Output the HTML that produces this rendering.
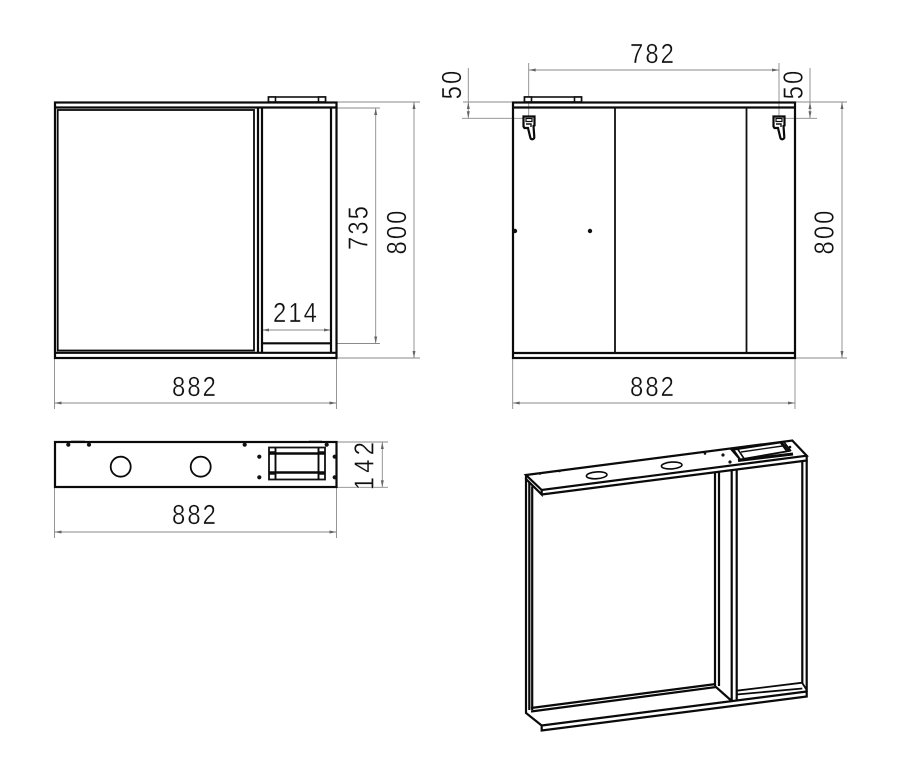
<!DOCTYPE html>
<html><head><meta charset="utf-8"><style>
html,body{margin:0;padding:0;background:#fff;width:900px;height:774px;overflow:hidden}
svg{display:block}
text{font-family:"Liberation Sans",sans-serif;font-size:28px;fill:#111;stroke:#fff;stroke-width:.35px;text-anchor:middle;letter-spacing:2.5px}
.k{fill:none;stroke:#0a0a0a;stroke-width:2.2}
.m{fill:none;stroke:#111;stroke-width:1.4}
.d{fill:none;stroke:#8a8a8a;stroke-width:.9}
.a{fill:#666;stroke:none}
.w{fill:#fff;stroke:#111;stroke-width:1.6}
</style></head><body>
<svg width="900" height="774" viewBox="0 0 900 774" xmlns="http://www.w3.org/2000/svg">
<!-- FRONT VIEW -->
<g class="d">
<path d="M337 108H380M337 343.5H380M337 102H420M337 358H420"/>
<path d="M375.7 108V343.5M414 102V358"/>
<path d="M54.5 358V409M336.5 358V409M54.5 403H336.5M262 330H331"/>
</g>
<g class="a">
<path d="M375.7 108l-1.5 7h3zM375.7 343.5l-1.5-7h3zM414 102l-1.5 7h3zM414 358l-1.5-7h3z"/>
<path d="M54.5 403l7-1.5v3zM336.5 403l-7-1.5v3zM262 330l7-1.5v3zM331 330l-7-1.5v3z"/>
</g>
<g>
<rect class="w" x="268.5" y="97" width="57" height="5"/>
<rect class="w" x="268.5" y="97" width="7" height="5"/>
<rect class="w" x="318.5" y="97" width="7" height="5"/>
<rect class="k" x="55" y="102.5" width="281.5" height="255.5"/>
<path class="k" d="M55 107.5H336.5M55 352.8H336.5"/>
<rect class="k" x="57.7" y="110" width="196.3" height="240.5" style="stroke-width:1.8"/>
<path class="k" d="M258 108V352.5M262 108V352.5M331 108V352.5M262 343.3H331"/>
</g>
<text transform="translate(195 396) scale(.85 1)">882</text>
<text transform="translate(296 322) scale(.85 1)">214</text>
<text transform="translate(367.5 227) rotate(-90) scale(.85 1)">735</text>
<text transform="translate(406 231.5) rotate(-90) scale(.85 1)">800</text>

<!-- BACK VIEW -->
<g class="d">
<path d="M528.7 63V119M779 63V119M528.7 70H779"/>
<path d="M468.3 68V118.3M463 102H512M462 118.3H528.7"/>
<path d="M810 68V118.3M795 102H847M779 118.3H817"/>
<path d="M842 102V358M795 358H847"/>
<path d="M512.7 358V409M795 358V409M512.7 403H795"/>
</g>
<g class="a">
<path d="M528.7 70l7-1.5v3zM779 70l-7-1.5v3zM468.3 102l-1.5 7h3zM468.3 118.3l-1.5-7h3zM810 102l-1.5 7h3zM810 118.3l-1.5-7h3z"/>
<path d="M842 102l-1.5 7h3zM842 358l-1.5-7h3zM512.7 403l7-1.5v3zM795 403l-7-1.5v3z"/>
</g>
<rect class="w" x="524.5" y="97" width="57" height="5"/>
<rect class="w" x="524.5" y="97" width="7" height="5"/>
<rect class="w" x="574.5" y="97" width="7" height="5"/>
<rect class="k" x="513" y="102.5" width="282" height="255.5"/>
<path class="k" d="M513 107.5H795M513 353H795"/>
<path class="m" d="M615 107.5V353M746.5 107.5V353" style="stroke-width:1.8"/>
<g>
<path d="M523.5 116.5h11v9l-1 .5 .8 11a2 2 0 0 1-4 0.5l-2.3-9.5h-3.5l-1-1.5z" fill="#fff" stroke="#0a0a0a" stroke-width="2.2"/>
<rect x="526" y="118.5" width="6" height="3" fill="#fff" stroke="#0a0a0a" stroke-width="1.2"/>
<path class="m" d="M526 124h5v3" />
</g>
<g transform="translate(250 0)">
<path d="M523.5 116.5h11v9l-1 .5 .8 11a2 2 0 0 1-4 0.5l-2.3-9.5h-3.5l-1-1.5z" fill="#fff" stroke="#0a0a0a" stroke-width="2.2"/>
<rect x="526" y="118.5" width="6" height="3" fill="#fff" stroke="#0a0a0a" stroke-width="1.2"/>
<path class="m" d="M526 124h5v3" />
</g>
<circle cx="515" cy="231" r="2.2" fill="#111"/>
<circle cx="590" cy="231" r="2.2" fill="#111"/>
<text transform="translate(653 63) scale(.85 1)">782</text>
<text transform="translate(653 396) scale(.85 1)">882</text>
<text transform="translate(461 84) rotate(-90) scale(.85 1)">50</text>
<text transform="translate(802.5 84) rotate(-90) scale(.85 1)">50</text>
<text transform="translate(833.5 231.5) rotate(-90) scale(.85 1)">800</text>

<!-- TOP VIEW -->
<g class="d">
<path d="M337 442H388M337 487.3H388M382.3 442V487.3"/>
<path d="M54.5 487V538M336.5 487V538M54.5 532H336.5"/>
</g>
<g class="a">
<path d="M382.3 442l-1.5 7h3zM382.3 487.3l-1.5-7h3zM54.5 532l7-1.5v3zM336.5 532l-7-1.5v3z"/>
</g>
<rect class="k" x="55" y="442" width="281.5" height="45" />
<path class="k" d="M71 441.2H85M309 441.2H322" style="stroke-width:1"/>
<circle class="k" cx="120.7" cy="466.7" r="10" style="stroke-width:1.8"/>
<circle class="k" cx="200.7" cy="466.7" r="10" style="stroke-width:1.8"/>
<g fill="#111">
<circle cx="68.3" cy="444.7" r="2.1"/><circle cx="89" cy="444.7" r="2.1"/><circle cx="244.7" cy="444.7" r="2.1"/><circle cx="326.7" cy="444.7" r="2.1"/>
<circle cx="259.3" cy="456.7" r="2.1"/><circle cx="259.3" cy="477.3" r="2.1"/><circle cx="334.7" cy="456.7" r="2.1"/><circle cx="334.7" cy="477.3" r="2.1"/>
</g>
<rect class="m" x="269" y="447.5" width="56" height="32" style="stroke-width:1.8"/>
<path class="k" d="M269 453.5H325M269 472.5H325" style="stroke-width:2.6"/>
<path class="k" d="M275.5 447.5V479.5M318.5 447.5V479.5" style="stroke-width:1.9"/>
<path class="m" d="M269 452H275.5M318.5 452H325M269 474H275.5M318.5 474H325"/>
<text transform="translate(195 524) scale(.85 1)">882</text>
<text transform="translate(373.5 464) rotate(-90) scale(.85 1)" style="letter-spacing:5px">142</text>

<!-- ISOMETRIC VIEW -->
<g>
<path class="k" d="M526 475L792.3 440.5L806.7 455.7L541.7 490Z"/>
<path class="k" d="M526 475V479L541.7 494.5V490M541.7 494.5L806.7 460.5V455.7"/>
<path class="k" d="M526 478V713L541.7 725.5V730.5L806.7 696.5V691.5M541.7 725.5L806.7 691.5"/>
<path class="k" d="M529.3 481.5V710M532.2 486.5V710"/>
<path class="k" d="M531 711.5L716 687L731.7 701"/>
<path class="k" d="M531 708L716 684"/>
<path class="k" d="M715 472.5V686M719 472V686"/>
<path class="k" d="M731.7 471V701M736.7 470.5V700.5"/>
<path class="k" d="M802.3 461.5V683M806.7 460.5V692"/>
<path class="k" d="M736.7 690.7L802.3 682.7M736.7 694.5L802.3 688.5M802.3 683L806.7 690" style="stroke-width:1.8"/>
<ellipse class="k" cx="596.7" cy="475.3" rx="10.3" ry="3.4" transform="rotate(-4 596.7 475.3)" style="stroke-width:1.6"/>
<ellipse class="k" cx="671.7" cy="465.5" rx="10.3" ry="3.4" transform="rotate(-4 671.7 465.5)" style="stroke-width:1.6"/>
<g fill="#111"><circle cx="540" cy="473.5" r="1.3"/><circle cx="559.5" cy="471" r="1.3"/><circle cx="705" cy="453.5" r="1.3"/><circle cx="723" cy="455" r="1.6"/><circle cx="730" cy="462" r="1.6"/><circle cx="790" cy="447" r="1.3"/></g>
<path d="M731.7 450L781.7 442.3L789 451L740 459.5Z" fill="#fff" stroke="#0a0a0a" stroke-width="1.8"/>
<path class="k" d="M738 460.5L793 454" style="stroke-width:3"/>
<path class="k" d="M733 449L740 459M737 448L744 458.5M780 442L787 451.5M783.5 441.5L791 451" style="stroke-width:1.6"/>
<path class="m" d="M741 452L786 445.5"/>
</g>
</svg>
</body></html>
